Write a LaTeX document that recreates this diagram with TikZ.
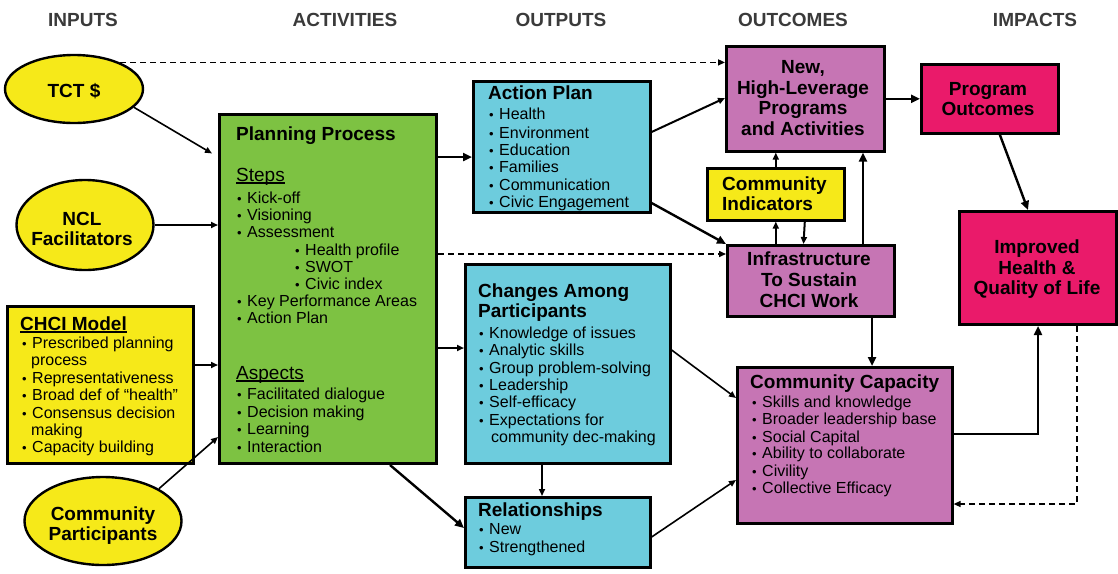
\documentclass[tikz,border=0pt]{standalone}
\usepackage{fontspec}
\setmainfont{Liberation Sans}
\usetikzlibrary{arrows.meta,shapes.geometric}
\definecolor{cyel}{HTML}{F6E919}
\definecolor{cgrn}{HTML}{7DC242}
\definecolor{ccya}{HTML}{6DCCDD}
\definecolor{cpur}{HTML}{C675B4}
\definecolor{cmag}{HTML}{EA1A6A}
\definecolor{chead}{HTML}{3A3A3A}
\newcommand\bu{\makebox[10pt][l]{\fontsize{13}{13}\selectfont\textbullet}}
\newcommand\myul[1]{\setbox0\hbox{#1}\rlap{\rule[-2.5pt]{\wd0}{1.3pt}}\box0}
\begin{document}
\begin{tikzpicture}[x=1pt,y=-1pt,
 box/.style={draw=black, line width=2.6pt, anchor=north west, inner sep=0pt},
 oval/.style={ellipse, draw=black, line width=2.4pt, fill=cyel, inner sep=0pt},
 item/.style={anchor=base west, inner sep=0pt, font=\fontsize{16}{18}\selectfont},
 ttl/.style={anchor=base west, inner sep=0pt, font=\bfseries\fontsize{19}{21}\selectfont},
 sub/.style={anchor=base west, inner sep=0pt, font=\fontsize{19}{21}\selectfont},
 ctr/.style={anchor=base, inner sep=0pt, font=\bfseries\fontsize{19}{21}\selectfont},
 hdr/.style={anchor=base, inner sep=0pt, text=chead, font=\bfseries\fontsize{19}{21}\selectfont},
 arr/.style={-{Triangle[length=7pt,width=6pt]}, line width=1.6pt},
 tarr/.style={-{Triangle[length=9pt,width=8pt]}, line width=2.4pt},
 darr/.style={-{Triangle[length=7pt,width=6pt]}, line width=1.5pt, dash pattern=on 6pt off 4pt},
]
\useasboundingbox (0,0) rectangle (1118,573);

% column headers
\foreach \xx/\mytext [count=\i] in {83/INPUTS,345/ACTIVITIES,561/OUTPUTS,793/OUTCOMES,1035/IMPACTS}
  \node[hdr] (hd\i) at (\xx,26) {\mytext};

% shapes
\node[oval, minimum width=138pt, minimum height=68pt] (tct) at (74,89) {};
\node[oval, minimum width=137pt, minimum height=90pt] (ncl) at (85,225) {};
\node[oval, minimum width=157pt, minimum height=88pt] (cp) at (103,521) {};
\node[box, fill=cyel, minimum width=186pt, minimum height=157pt] (chci) at (6,305) {};
\node[box, fill=cgrn, line width=3pt, minimum width=217pt, minimum height=349pt] (pp) at (218,113) {};
\node[box, fill=ccya, minimum width=177pt, minimum height=131pt] (ap) at (472,80) {};
\node[box, fill=ccya, minimum width=205pt, minimum height=199pt] (ch) at (464,263) {};
\node[box, fill=ccya, minimum width=185pt, minimum height=70pt] (rel) at (464,496) {};
\node[box, fill=cpur, minimum width=158pt, minimum height=105pt] (new) at (725,45) {};
\node[box, fill=cyel, minimum width=137pt, minimum height=52pt] (ci) at (706,167) {};
\node[box, fill=cpur, line width=3pt, minimum width=167pt, minimum height=71pt] (infra) at (726,244) {};
\node[box, fill=cpur, minimum width=215pt, minimum height=156pt] (cc) at (736,366) {};
\node[box, fill=cmag, minimum width=137pt, minimum height=69pt] (po) at (920,63) {};
\node[box, fill=cmag, line width=3pt, minimum width=157pt, minimum height=113pt] (imp) at (958,210) {};

% connectors
\draw[arr, shorten >=7pt] (tct.-17) -- (pp.west |- 0,157);
\draw[arr] (ncl.east) -- (pp.west |- ncl.east);
\draw[arr] (chci.east |- 0,365) -- (pp.west |- 0,365);
\draw[arr] (cp.30) -- (pp.west |- 0,437);
\draw[darr] (tct.30) -- (new.west |- tct.30);
\draw[darr] (pp.east |- 0,254) -- (infra.west |- 0,254);
\draw[tarr] (pp.east |- 0,157) -- (ap.west |- 0,157);
\draw[arr, line width=2pt] (pp.east |- 0,348) -- (ch.west |- 0,348);
\draw[tarr] ([xshift=-48pt]pp.south east) -- (rel.west |- 0,528);
\draw[arr, line width=2pt] (ap.east |- 0,132) -- (new.west |- 0,98);
\draw[tarr] (ap.east |- 0,203) -- (infra.north west);
\draw[arr, line width=2pt] (ci.north) -- (new.south -| ci.north);
\draw[arr, line width=2pt] (infra.north -| ci.south) -- (ci.south);
\draw[arr, line width=2pt] ([xshift=29pt]ci.south) -- (infra.north -| 803.5,0);
\draw[tarr] (infra.north -| 863,0) -- (new.south -| 863,0);
\draw[tarr] (new.east) -- (po.west |- new.east);
\draw[tarr] ([xshift=10pt]po.south) -- ([xshift=-10pt]imp.north);
\draw[tarr] (infra.south -| 872,0) -- (cc.north -| 872,0);
\draw[arr] (ch.east |- 0,350) -- (cc.west |- 0,398);
\draw[arr] (rel.east |- 0,537) -- (cc.west |- 0,480);
\draw[arr] (ch.south -| 542,0) -- (rel.north -| 542,0);
\draw[tarr, line width=2.2pt] (cc.east |- 0,434) -| (imp.south);
\draw[darr, line width=1.3pt] (imp.south -| 1077,0) |- (cc.east |- 0,504);

% ellipse texts
\node[ctr] (tctt) at (74,97) {TCT \$};
\foreach \yy/\mytext [count=\i] in {225/NCL,245/Facilitators}
  \node[ctr] (nclt\i) at (82,\yy) {\mytext};
\foreach \yy/\mytext [count=\i] in {520/Community,540/Participants}
  \node[ctr] (cpt\i) at (103,\yy) {\mytext};

% CHCI model
\node[ttl] (chcit) at (20,330) {\myul{CHCI Model}};
\foreach \yy/\mytext [count=\i] in {348/Prescribed planning,383/Representativeness,400/Broad def of “health”,418/Consensus decision,452/Capacity building}
  \node[item] (chcii\i) at (22,\yy) {\bu\mytext};
\foreach \yy/\mytext [count=\i] in {365/process,435/making}
  \node[item] (chcic\i) at (31,\yy) {\mytext};

% planning process
\node[ttl] (ppt) at (236,140) {Planning Process};
\node[sub] (pps) at (236,181) {\myul{Steps}};
\node[sub] (ppa) at (236,379) {\myul{Aspects}};
\foreach \yy/\mytext [count=\i] in {203/Kick-off,220/Visioning,237/Assessment,306/Key Performance Areas,323/Action Plan,399/Facilitated dialogue,417/Decision making,434/Learning,452/Interaction}
  \node[item] (ppi\i) at (237,\yy) {\bu\mytext};
\foreach \yy/\mytext [count=\i] in {255/Health profile,272/SWOT,289/Civic index}
  \node[item] (ppj\i) at (295,\yy) {\bu\mytext};

% action plan
\node[ttl] (apt) at (488,99) {Action Plan};
\foreach \yy/\mytext [count=\i] in {119/Health,138/Environment,155/Education,172/Families,190/Communication,207/Civic Engagement}
  \node[item] (api\i) at (489,\yy) {\bu\mytext};

% changes among participants
\node[ttl] (cht1) at (478,297) {Changes Among};
\node[ttl] (cht2) at (478,317) {Participants};
\foreach \yy/\mytext [count=\i] in {338/Knowledge of issues,355/Analytic skills,373/Group problem-solving,390/Leadership,407/Self-efficacy,425/Expectations for}
  \node[item] (chi\i) at (479,\yy) {\bu\mytext};
\node[item] (chc) at (491,442) {community dec-making};

% relationships
\node[ttl] (relt) at (478,516) {Relationships};
\foreach \yy/\mytext [count=\i] in {534/New,552/Strengthened}
  \node[item] (reli\i) at (479,\yy) {\bu\mytext};

% community capacity
\node[ttl] (cct) at (750,388) {Community Capacity};
\foreach \yy/\mytext [count=\i] in {407/Skills and knowledge,424/Broader leadership base,442/Social Capital,458/Ability to collaborate,476/Civility,493/Collective Efficacy}
  \node[item] (cci\i) at (752,\yy) {\bu\mytext};

% centred box texts
\foreach \yy/\mytext [count=\i] in {73/{New,},94/High-Leverage,114/Programs,135/and Activities}
  \node[ctr] (newt\i) at (803,\yy) {\mytext};
\foreach \yy/\mytext [count=\i] in {190/Community,210/Indicators}
  \node[ttl] (cit\i) at (722,\yy) {\mytext};
\foreach \yy/\mytext [count=\i] in {265/Infrastructure,286/To Sustain,307/CHCI Work}
  \node[ctr] (infrat\i) at (809,\yy) {\mytext};
\foreach \yy/\mytext [count=\i] in {95/Program,115/Outcomes}
  \node[ctr] (pot\i) at (988,\yy) {\mytext};
\foreach \yy/\mytext [count=\i] in {253/Improved,274/Health \&,294/Quality of Life}
  \node[ctr] (impt\i) at (1037,\yy) {\mytext};
\end{tikzpicture}
\end{document}
